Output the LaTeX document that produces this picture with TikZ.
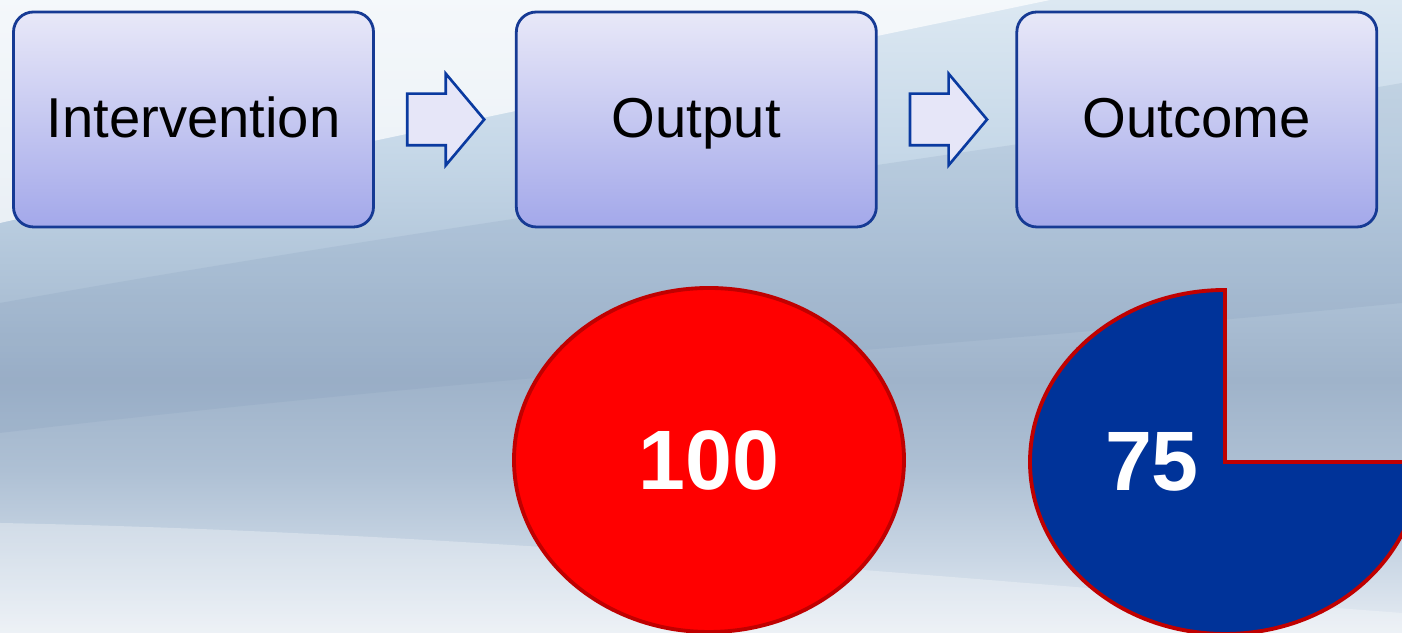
\documentclass[tikz,border=0pt]{standalone}
\usepackage{fontspec}
\setmainfont{Liberation Sans}
\usepackage{tikz}
\usetikzlibrary{shapes,arrows,positioning,calc}
\usepackage{xcolor}

\definecolor{boxline}{HTML}{163A94}
\definecolor{boxtop}{HTML}{E8E8F8}
\definecolor{boxbot}{HTML}{A3A8EA}
\definecolor{arrowline}{HTML}{0A3AA0}
\definecolor{arrowfill}{HTML}{E6E6F8}
\definecolor{scorered}{HTML}{FF0000}
\definecolor{scoreline}{HTML}{C00000}
\definecolor{scoreblue}{HTML}{003399}
% backdrop wash, top to bottom
\definecolor{washA}{HTML}{DCE8F2}
\definecolor{washB}{HTML}{C6D8E8}
\definecolor{washC}{HTML}{B2C6DA}
\definecolor{washD}{HTML}{9FB3CA}
\definecolor{washE}{HTML}{AEC0D4}
\definecolor{washF}{HTML}{CAD7E5}
\definecolor{washG}{HTML}{E6ECF3}
\definecolor{washdeep}{HTML}{7F98B8}
\pgfdeclareverticalshading{skywash}{100bp}{color(0bp)=(washG); color(25bp)=(washG);
  color(30.76bp)=(washF); color(37.87bp)=(washE); color(44.98bp)=(washD);
  color(54.46bp)=(washC); color(63.15bp)=(washB); color(75bp)=(washA); color(100bp)=(washA)}

\begin{document}
\begin{tikzpicture}[
    stage box/.style={rectangle, rounded corners=0.2cm, draw=boxline, line width=0.8pt,
        top color=boxtop, bottom color=boxbot, minimum width=3.6cm, minimum height=2.15cm,
        text height=13.8pt, text depth=3.4pt, font=\fontsize{16}{19}\selectfont},
    flow arrow/.style={single arrow, draw=arrowline, fill=arrowfill, line width=0.75pt,
        inner xsep=0pt, inner ysep=0.245cm, minimum height=0.77cm,
        single arrow head extend=0.2cm, single arrow tip angle=100},
    score text/.style={text=white, font=\bfseries\fontsize{24}{28}\selectfont},
    score oval/.style={ellipse, draw=scoreline, fill=scorered, line width=1.1pt,
        minimum width=3.9cm, minimum height=3.44cm, score text},
    score slice/.style={draw=scoreline, fill=scoreblue, line width=1.1pt}
]
    \useasboundingbox (0,0) rectangle (14.02,6.33);

    % Backdrop
    \begin{scope}
        \clip (0,0) rectangle (14.02,6.33);
        \shade[shading=skywash] (0,0) rectangle (14.02,6.33);
        \fill[white, opacity=0.7] (0,6.33) -- (10.5,6.33) .. controls (7.5,5.7) and (3.5,4.9) .. (0,4.1) -- cycle;
        \fill[washdeep, opacity=0.18] (14.02,5.5) .. controls (10,4.8) and (5,4.2) .. (0,3.3)
            -- (0,2.0) .. controls (5,2.6) and (10,2.9) .. (14.02,3.3) -- cycle;
        \fill[white, opacity=0.3] (0,1.1) .. controls (5,1.0) and (10,0.5) .. (14.02,0.2)
            -- (14.02,0) -- (0,0) -- cycle;
    \end{scope}

    % Stages
    \node[stage box] (intervention) at (1.935,5.135) {Intervention};
    \node[stage box, right=1.40cm of intervention] (output) {Output};
    \node[stage box, right=1.377cm of output] (outcome) {Outcome};

    % Arrows between stages
    \node[flow arrow, right=0.31cm of intervention] (arr1) {};
    \node[flow arrow, right=0.31cm of output] (arr2) {};

    % Scores
    \node[score oval] (count) at (7.09,1.73) {100};
    \begin{scope}
        \clip (0,0) rectangle (14.02,6.33);
        \coordinate (pie) at (12.25,1.71);
        \draw[score slice] (pie) -- ++(0,1.72) arc[start angle=90, end angle=360,
            x radius=1.95, y radius=1.72] -- cycle;
    \end{scope}
    \node[score text] (share) at (11.52,1.71) {75};
\end{tikzpicture}
\end{document}
